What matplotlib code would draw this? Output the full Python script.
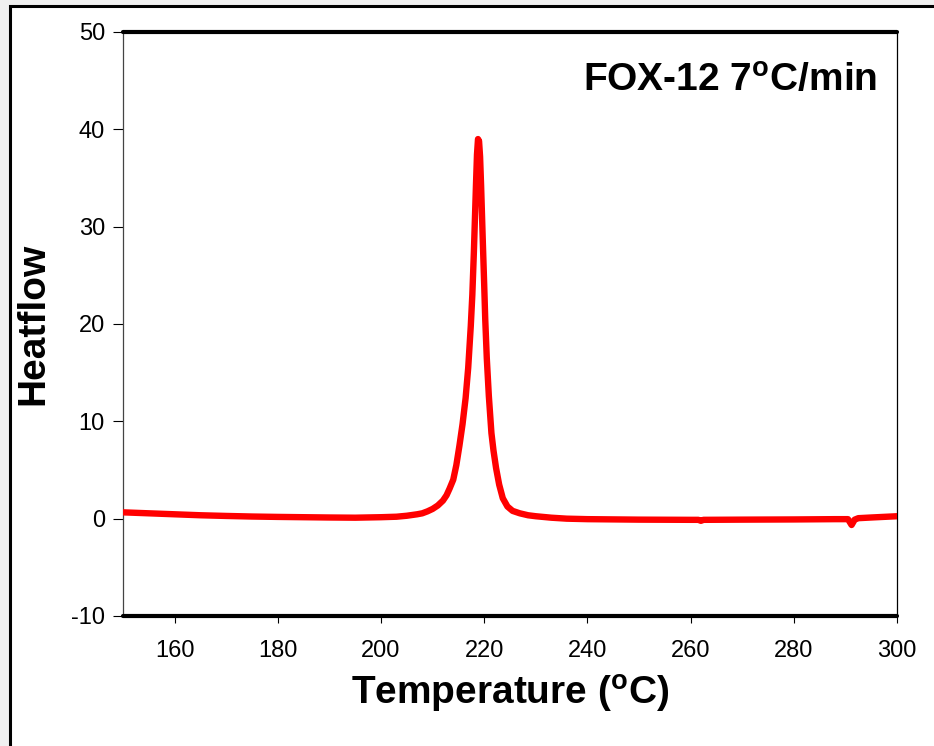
"""DSC heat flow trace for FOX-12 at 7 C/min."""

import matplotlib
matplotlib.use("Agg")
import matplotlib.pyplot as plt
from matplotlib.patches import Rectangle

# values
temperature = [
    150, 155, 160, 165, 170, 175, 180, 185, 190, 195, 200, 203, 205, 207,
    208, 209, 210, 211, 212, 212.7, 213.3, 214, 214.6, 215.2, 215.8, 216.4,
    216.9, 217.4, 217.7, 218.0, 218.2, 218.4, 218.6, 218.8, 219.0, 219.2,
    219.4, 219.7, 220.0, 220.2, 220.5, 220.9, 221.4, 221.8, 222.3, 222.9,
    223.6, 224.5, 225.5, 226.9, 228.5, 230, 233, 236, 240, 250, 260, 261.5,
    262, 262.5, 270, 280, 288, 290.5, 291.2, 291.8, 292.5, 295, 300,
]
heatflow = [
    0.65, 0.55, 0.45, 0.35, 0.28, 0.22, 0.18, 0.15, 0.12, 0.1, 0.15, 0.2,
    0.3, 0.45, 0.55, 0.75, 1.0, 1.35, 1.85, 2.4, 3.1, 4.0, 5.5, 7.5, 9.7,
    12.4, 15.5, 19.8, 23, 27.4, 30.8, 34.2, 37.4, 39.0, 38.8, 37.2, 34.2,
    29.0, 24.0, 20.5, 16.5, 12.6, 8.8, 7.0, 5.2, 3.5, 2.1, 1.25, 0.8, 0.55,
    0.35, 0.25, 0.1, 0.0, -0.05, -0.1, -0.12, -0.12, -0.22, -0.12, -0.1,
    -0.08, -0.05, -0.05, -0.65, -0.1, 0.05, 0.12, 0.25,
]
x_ticks = [160, 180, 200, 220, 240, 260, 280, 300]
y_ticks = [-10, 0, 10, 20, 30, 40, 50]

plt.rcParams["font.family"] = ["Liberation Sans", "DejaVu Sans"]
plt.rcParams["mathtext.fontset"] = "custom"
plt.rcParams["mathtext.rm"] = "Liberation Sans"
plt.rcParams["mathtext.bf"] = "Liberation Sans:bold"
plt.rcParams["axes.unicode_minus"] = False

W, H = 934, 746
fig = plt.figure(figsize=(W / 100, H / 100), dpi=100, facecolor="#f0f0f0")

# white panel with black frame (right/bottom edges run off the image)
frame = Rectangle(
    (9.5 / W, -0.05), 1.2, 1 - 6 / H + 0.05,
    transform=fig.transFigure, facecolor="white", edgecolor="black",
    linewidth=2.2, zorder=-1,
)
fig.patches.append(frame)

ax = fig.add_axes([123 / W, 1 - 616 / H, (897 - 123) / W, (616 - 32) / H])
ax.set_facecolor("white")
ax.plot(temperature, heatflow, color="#ff0000", linewidth=4.6,
        solid_capstyle="round", solid_joinstyle="round", zorder=3)

ax.set_xlim(150, 300)
ax.set_ylim(-10, 50)
ax.set_xticks(x_ticks)
ax.set_yticks(y_ticks)
ax.tick_params(axis="both", direction="out", labelsize=17, colors="black")
ax.tick_params(axis="x", length=5, width=0.8, pad=12)
ax.tick_params(axis="y", length=7, width=0.8, pad=6)

for side in ("top", "bottom"):
    ax.spines[side].set_linewidth(3.0)
    ax.spines[side].set_capstyle("round")
for side in ("left", "right"):
    ax.spines[side].set_linewidth(0.9)
ax.spines["left"].set_color("#444444")

ax.set_xlabel("Temperature ($^\\mathbf{o}$C)", fontsize=28, fontweight="bold",
              labelpad=8)
ax.set_ylabel("Heatflow", fontsize=28, fontweight="bold", labelpad=14)
ax.text(0.975, 0.915, "FOX-12 7$^\\mathbf{o}$C/min", transform=ax.transAxes,
        ha="right", va="center", fontsize=28, fontweight="bold")

fig.savefig("out.png", dpi=100, facecolor=fig.get_facecolor())
